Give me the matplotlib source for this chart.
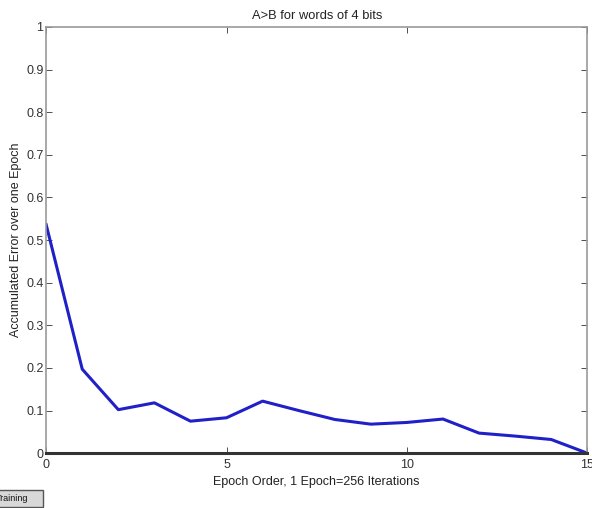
import matplotlib
matplotlib.use("Agg")
import matplotlib.pyplot as plt
from matplotlib.patches import Rectangle

# epoch error data
epochs = [0, 1, 2, 3, 4, 5, 6, 7, 8, 9, 10, 11, 12, 13, 14, 15]
error = [0.536, 0.197, 0.102, 0.118, 0.075, 0.083, 0.122, 0.100, 0.079, 0.068,
         0.072, 0.080, 0.047, 0.040, 0.032, 0.0]
xticks = [0, 5, 10, 15]
yticks = [0, 0.1, 0.2, 0.3, 0.4, 0.5, 0.6, 0.7, 0.8, 0.9, 1]
ytick_labels = ['0', '0.1', '0.2', '0.3', '0.4', '0.5', '0.6', '0.7', '0.8', '0.9', '1']

plt.rcParams['font.family'] = ['Liberation Sans', 'DejaVu Sans']
fig = plt.figure(figsize=(5.92, 5.08), dpi=100)
ax = fig.add_axes([0.078, 0.108, 0.914, 0.839])

ax.plot(epochs, error, color='#2020c8', lw=2.2)
ax.set_xlim(0, 15)
ax.set_ylim(0, 1)
ax.set_xticks(xticks)
ax.set_yticks(yticks)
ax.set_yticklabels(ytick_labels)
ax.tick_params(direction='in', length=4, labelsize=9, colors='#333333', pad=2,
               top=True, right=True, width=0.6)
ax.tick_params(axis='x', pad=4)
for s in ['left', 'top', 'right']:
    ax.spines[s].set_color('#999999')
    ax.spines[s].set_linewidth(1.2)
ax.spines['bottom'].set_color('#333333')
ax.spines['bottom'].set_linewidth(2.2)

ax.set_title('A>B for words of 4 bits', fontsize=9.3, color='#222222', pad=6)
ax.set_xlabel('Epoch Order, 1 Epoch=256 Iterations', fontsize=9, color='#222222', labelpad=4)
ax.set_ylabel('Accumulated Error over one Epoch', fontsize=9, color='#222222', labelpad=3)

# partial "Training" button in bottom-left corner
fig.patches.append(Rectangle((-0.02, 0.002), 0.093, 0.033, transform=fig.transFigure,
                             facecolor='#d8d8d8', edgecolor='#555555', lw=1.0))
fig.text(-0.007, 0.018, 'Training', fontsize=6.5, va='center', ha='left', color='#111111')

fig.savefig('out.png', dpi=100)
